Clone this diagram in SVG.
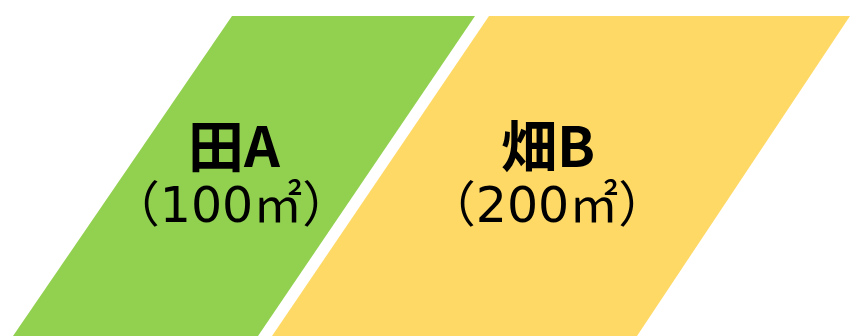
<svg xmlns="http://www.w3.org/2000/svg" width="850" height="336" viewBox="0 0 850 336">
<style>
.t1{font-family:"Noto Sans CJK JP","Noto Sans",sans-serif;font-weight:bold;font-size:56px;fill:#000;text-anchor:middle}
.t2{font-family:"Noto Sans CJK JP","Noto Sans",sans-serif;font-size:49px;fill:#000;text-anchor:middle}
.d{font-family:"DejaVu Sans","Noto Sans CJK JP",sans-serif}
</style>
<rect width="850" height="336" fill="#fff"/>
<g id="fieldA">
<polygon points="232,16 475,16 258,336 13,336" fill="#92D050"/>
<text class="t1" x="234" y="167">田A</text>
<text class="t2" x="231" y="222">（<tspan class="d">100</tspan>㎡）</text>
</g>
<g id="fieldB">
<polygon points="489,16 850,16 637,336 272,336" fill="#FFD966"/>
<text class="t1" x="548" y="167">畑B</text>
<text class="t2" x="547" y="222">（<tspan class="d">200</tspan>㎡）</text>
</g>
<g id="connectors"/>
</svg>
